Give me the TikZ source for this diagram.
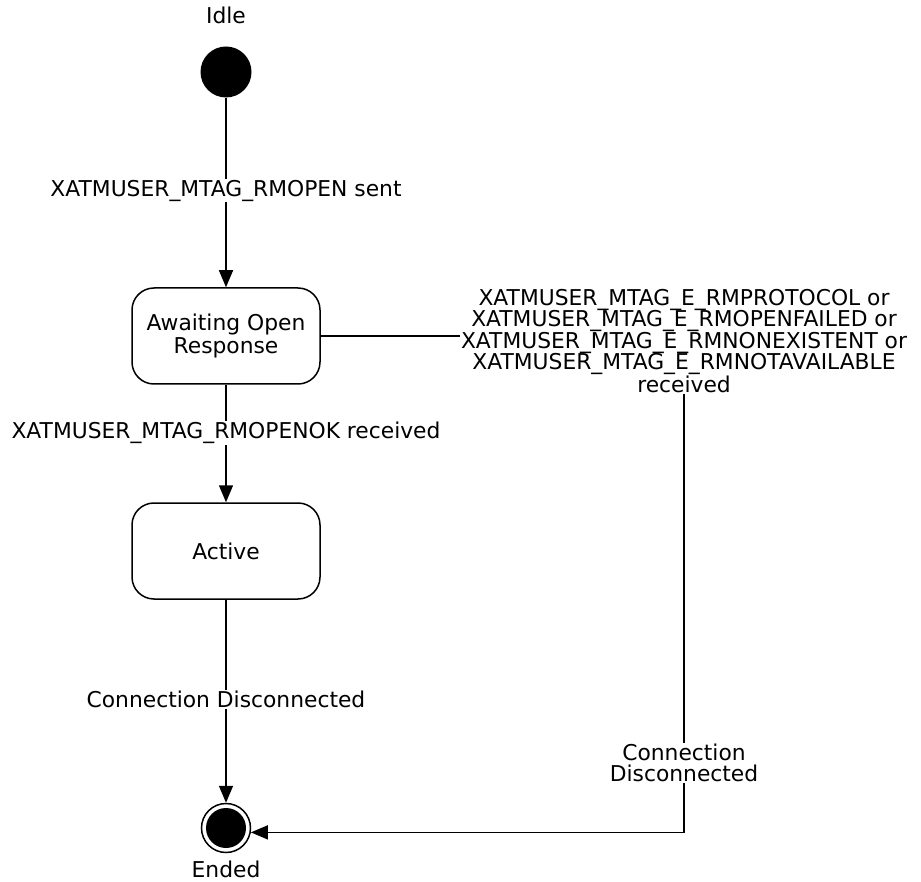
\documentclass[tikz,border=0pt]{standalone}
\usepackage{fontspec}
\setmainfont{DejaVu Sans}
\usetikzlibrary{arrows.meta}

\begin{document}
\begin{tikzpicture}[x=1pt,y=-1pt,
  lbl/.style={inner sep=1pt,align=center,font=\fontsize{21.8}{21.5}\selectfont},
  statebox/.style={draw,line width=1.5pt,rounded corners=22pt,minimum width=188pt,minimum height=96pt,align=center,font=\fontsize{21.8}{23}\selectfont},
  flow/.style={line width=1.5pt,-{Triangle[length=17pt,width=14pt]}},
  link/.style={line width=1.5pt}]
\path[use as bounding box] (0,0) rectangle (921,882);
% states
\node[lbl] (idlelbl) at (226,15) {Idle};
\node[circle,fill=black,minimum size=51pt,inner sep=0pt] (idle) at (226,72) {};
\node[statebox] (await) at (226,336) {Awaiting Open\\Response};
\node[statebox] (active) at (226,551) {Active};
\node[circle,draw,line width=1.5pt,minimum size=49pt,inner sep=0pt] (ended) at (226,828) {};
\fill (ended.center) circle (20pt);
\node[lbl] (endedlbl) at (226,869) {Ended};
% transitions
\draw[flow] (idle) -- node[lbl,fill=white,pos=0.49] (sentlbl) {XATMUSER\_MTAG\_RMOPEN sent} (await);
\draw[flow] (await) -- node[lbl,fill=white,pos=0.41] (oklbl) {XATMUSER\_MTAG\_RMOPENOK received} (active);
\draw[flow] (active) -- node[lbl,fill=white,pos=0.49] (disclbl) {Connection Disconnected} (ended);
% error branch
\node[lbl] (errlbl) at (684,341) {XATMUSER\_MTAG\_E\_RMPROTOCOL or\\XATMUSER\_MTAG\_E\_RMOPENFAILED or\\XATMUSER\_MTAG\_E\_RMNONEXISTENT or\\XATMUSER\_MTAG\_E\_RMNOTAVAILABLE\\received};
\draw[link] (await.east) -- (await.east -| errlbl.west);
\draw[flow] (errlbl.south) |- (ended.-10);
\node[lbl,fill=white] (disc2lbl) at (684,763) {Connection\\Disconnected};
\end{tikzpicture}
\end{document}
